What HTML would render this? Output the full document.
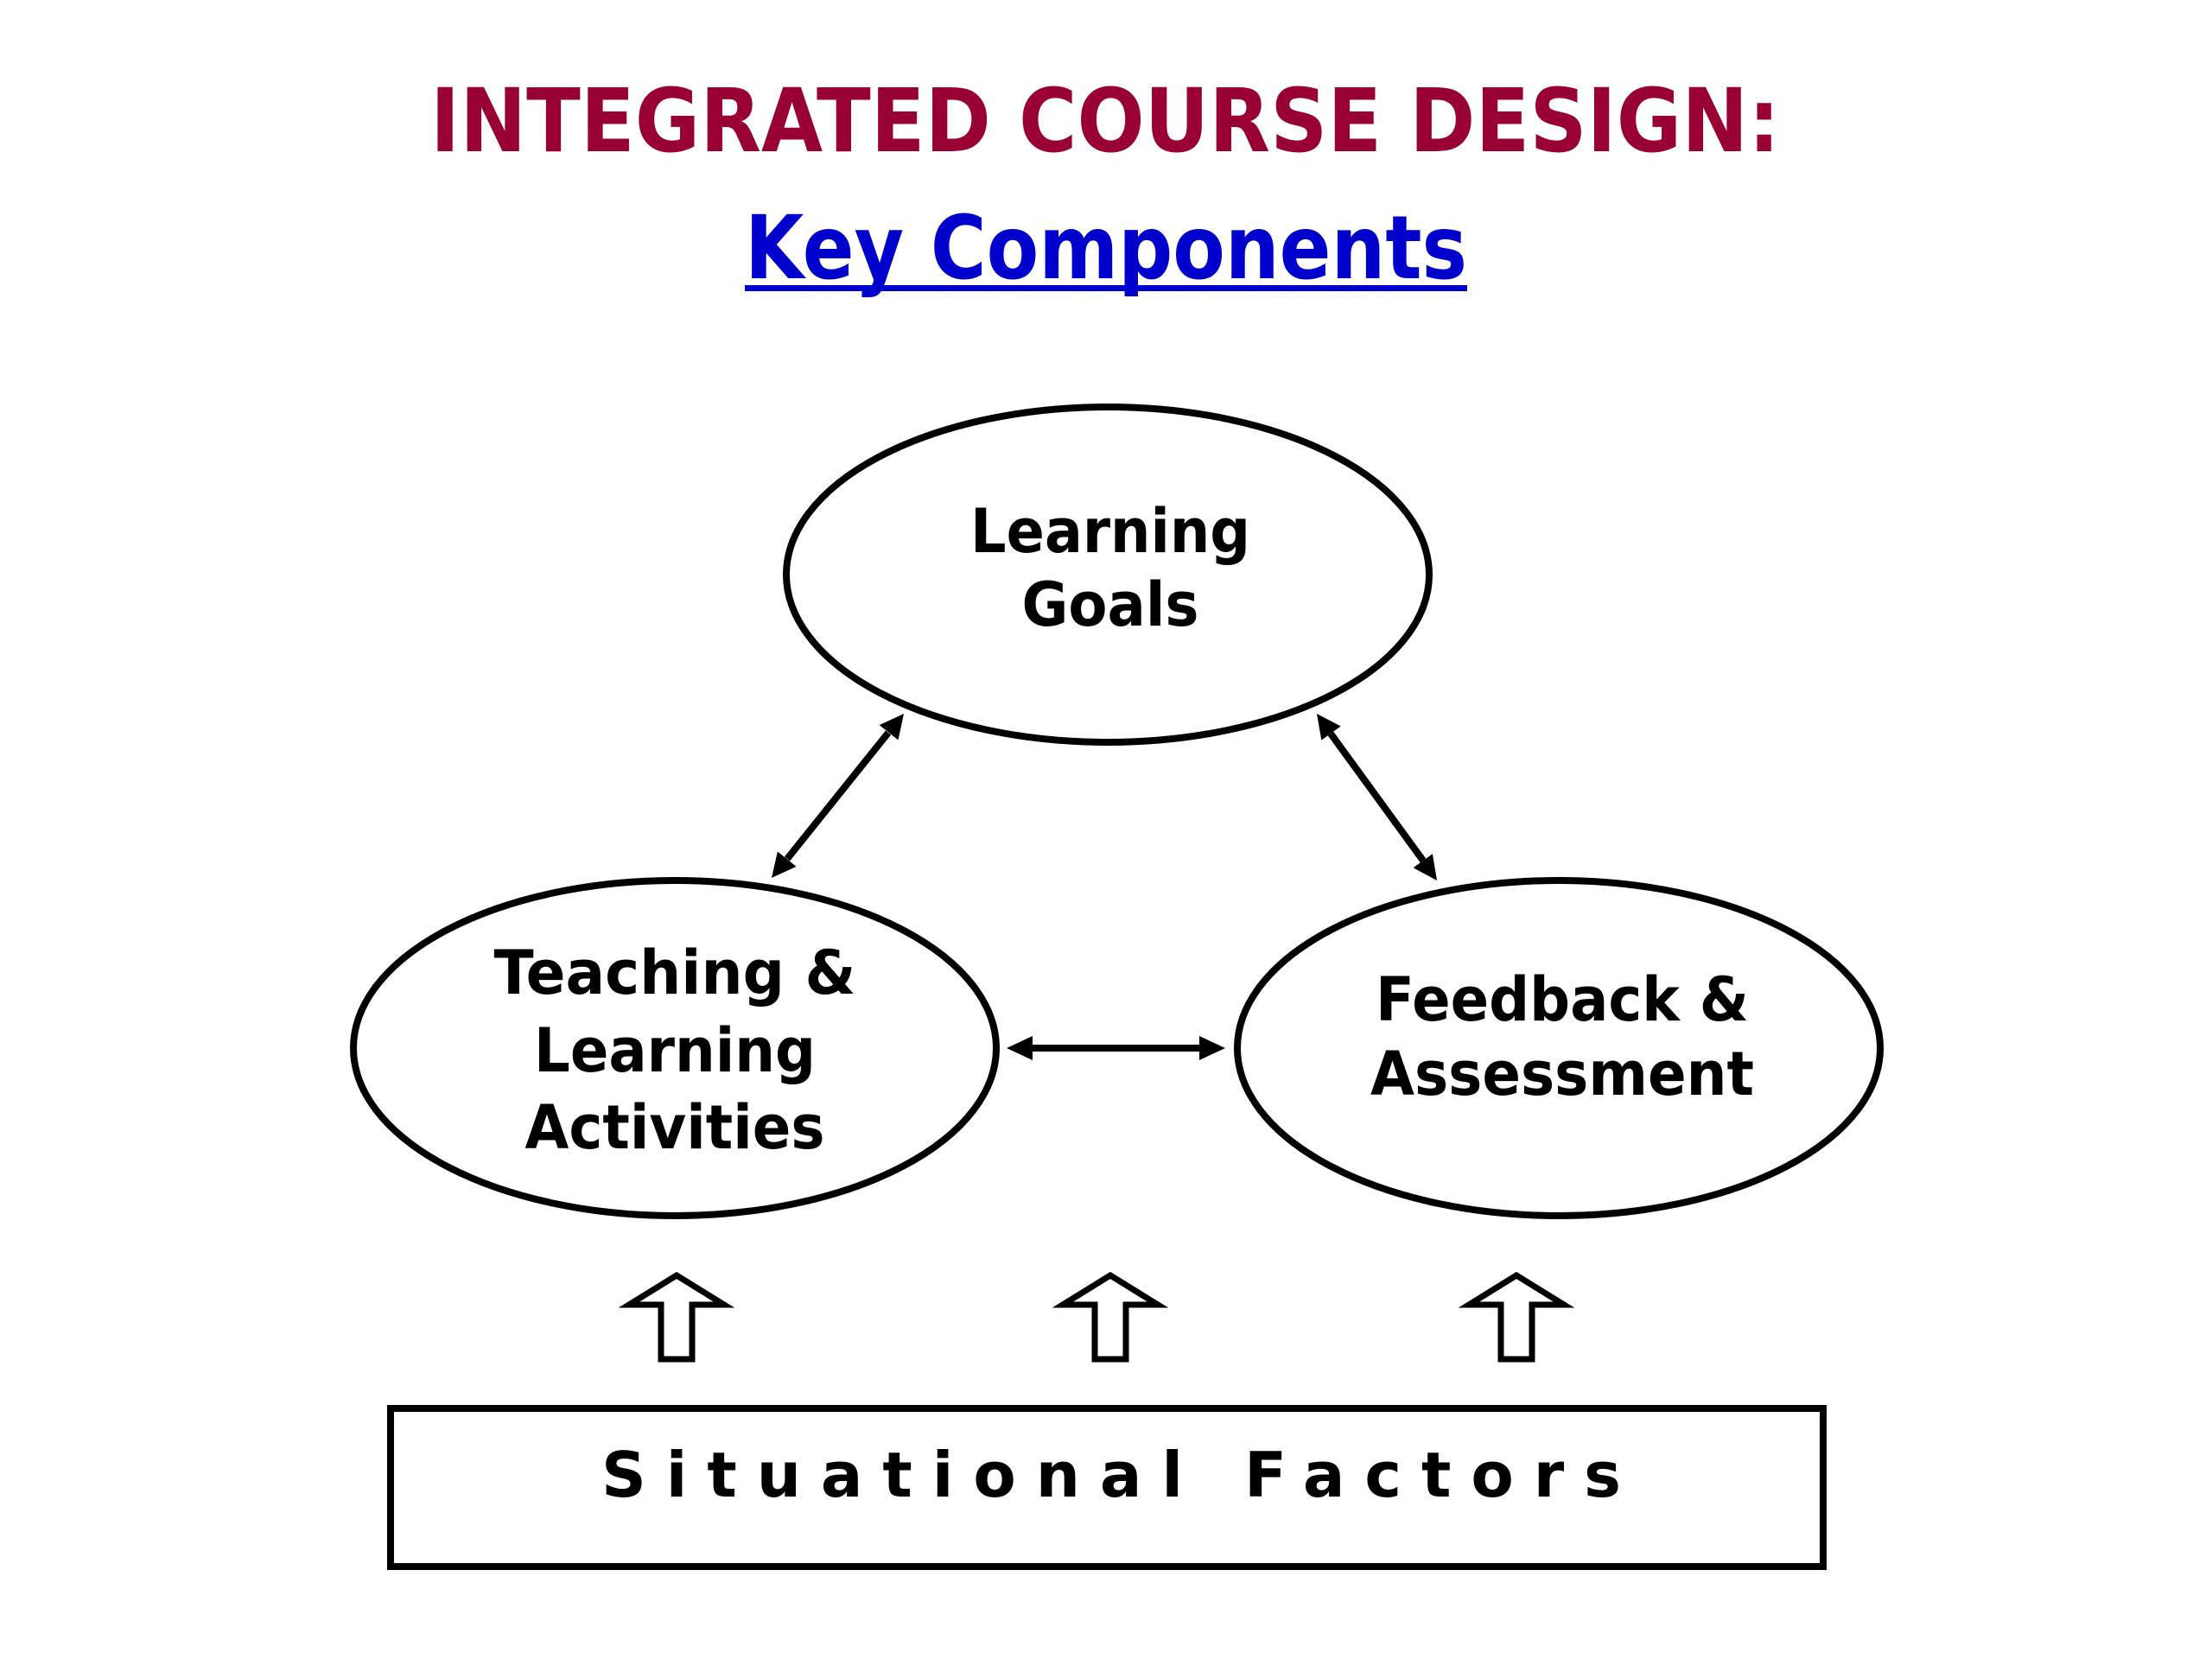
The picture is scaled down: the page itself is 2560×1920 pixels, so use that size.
<!DOCTYPE html>
<html><head><meta charset="utf-8"><style>html,body{margin:0;padding:0;background:#fff}svg{display:block}</style></head>
<body>
<svg width="2560" height="1920" viewBox="0 0 2560 1920" xmlns="http://www.w3.org/2000/svg">
<style>
text{font-family:"DejaVu Sans","Liberation Sans",sans-serif;font-weight:bold}
</style>
<text x="498" y="175" font-size="102" fill="#990033" textLength="1562" lengthAdjust="spacingAndGlyphs">INTEGRATED COURSE DESIGN:</text>
<text x="862" y="322" font-size="102" fill="#0000cc" textLength="836" lengthAdjust="spacingAndGlyphs">Key Components</text>
<rect x="862" y="330" width="836" height="7" fill="#0000cc"/>

<g fill="#fff" stroke="#000" stroke-width="8">
<ellipse cx="1282" cy="665" rx="372" ry="194"/>
<ellipse cx="781" cy="1213" rx="372" ry="194"/>
<ellipse cx="1804" cy="1213" rx="372" ry="194"/>
<rect x="452" y="1630" width="1658" height="183"/>
</g>

<g font-size="70" text-anchor="middle" fill="#000">
<text x="1285" y="639" textLength="324" lengthAdjust="spacingAndGlyphs">Learning</text>
<text x="1285" y="724" textLength="205" lengthAdjust="spacingAndGlyphs">Goals</text>
<text x="781" y="1150" textLength="419" lengthAdjust="spacingAndGlyphs">Teaching &amp;</text>
<text x="781" y="1240" textLength="326" lengthAdjust="spacingAndGlyphs">Learning</text>
<text x="781" y="1329" textLength="347" lengthAdjust="spacingAndGlyphs">Activities</text>
<text x="1808" y="1181" textLength="432" lengthAdjust="spacingAndGlyphs">Feedback &amp;</text>
<text x="1808" y="1267" textLength="444" lengthAdjust="spacingAndGlyphs">Assessment</text>
</g>

<g stroke="#000" stroke-width="8" fill="none">
<line x1="1028" y1="848" x2="911" y2="994"/>
<line x1="1540" y1="849" x2="1647" y2="996"/>
<line x1="1193" y1="1213" x2="1390" y2="1213"/>
</g>
<g fill="#000">
<polygon points="893,1016 921.5,1002.9 899.9,985.5"/>
<polygon points="1046,826 1039.5,856.5 1017.7,839.1"/>
<polygon points="1663,1019 1657.9,988.2 1635.5,1004.3"/>
<polygon points="1524,826 1551.7,840.5 1529.3,856.6"/>
<polygon points="1165,1213 1195,1199 1195,1227"/>
<polygon points="1418,1213 1388,1199 1388,1227"/>
</g>

<g fill="#fff" stroke="#000" stroke-width="7" stroke-linejoin="miter">
<path d="M783,1476 L838,1510 L801,1510 L801,1573 L765,1573 L765,1510 L728,1510 Z"/>
<path d="M1285,1476 L1340,1510 L1303,1510 L1303,1573 L1267,1573 L1267,1510 L1230,1510 Z"/>
<path d="M1755,1476 L1810,1510 L1773,1510 L1773,1573 L1737,1573 L1737,1510 L1700,1510 Z"/>
</g>

<text x="696" y="1732" font-size="72" fill="#000" textLength="1180" lengthAdjust="spacing">Situational  Factors</text>
</svg>
</body></html>
